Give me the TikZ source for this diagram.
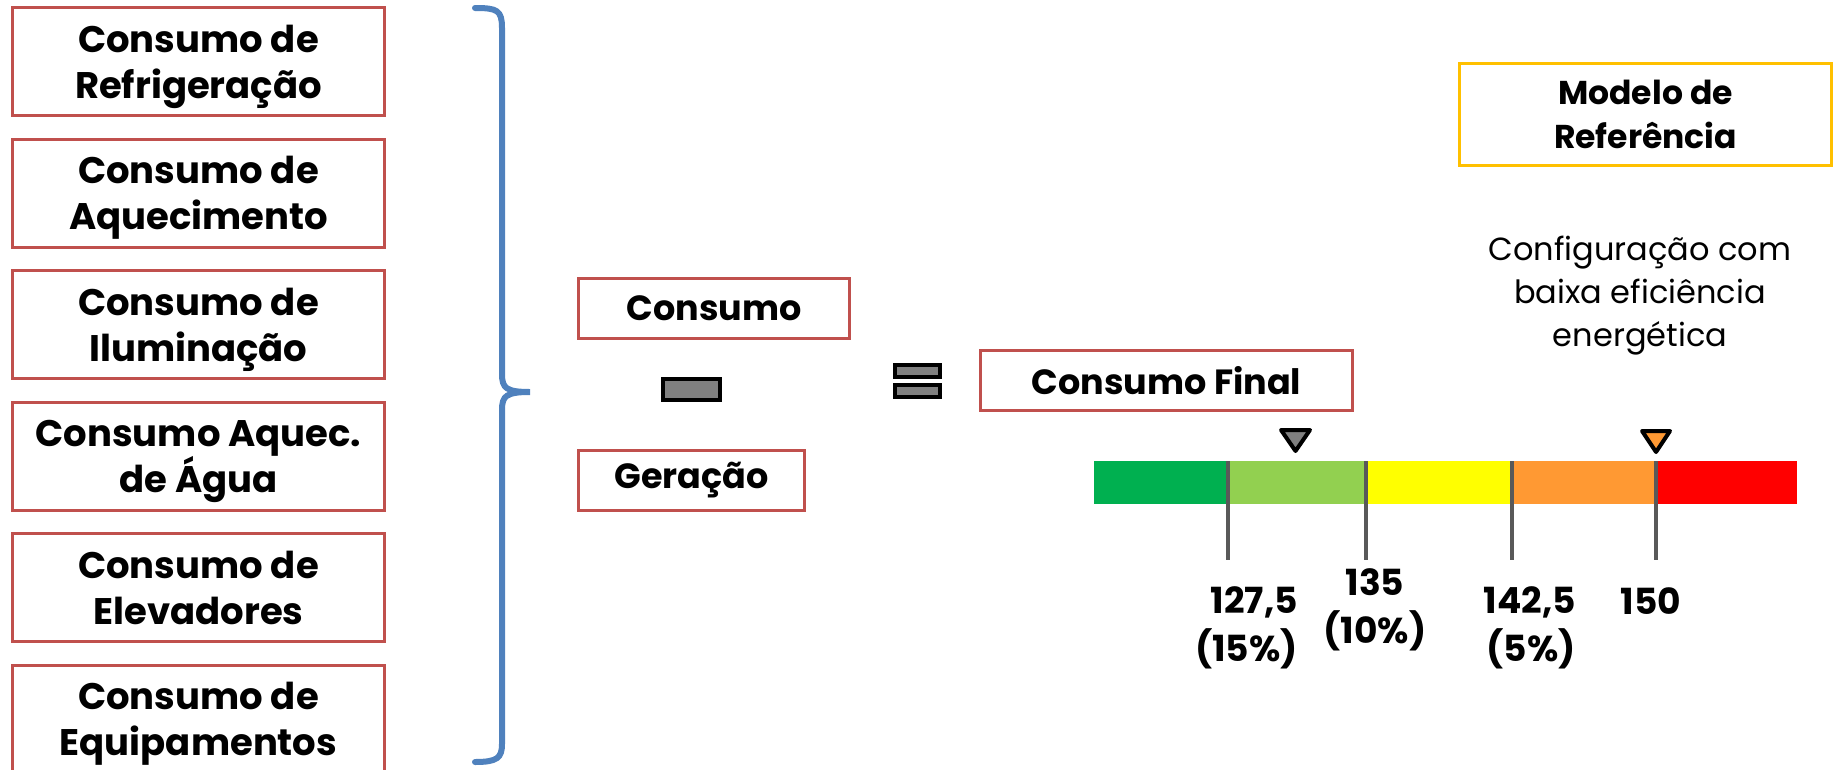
\documentclass[tikz,border=0pt]{standalone}
\usepackage{fontspec}
\setmainfont{Poppins}
\usetikzlibrary{positioning}
\usepackage{xcolor}
\definecolor{boxred}{HTML}{C0504D}
\definecolor{braceblue}{HTML}{4F81BD}
\definecolor{refyellow}{HTML}{FFC000}
\definecolor{lvA}{HTML}{00B050}
\definecolor{lvB}{HTML}{92D050}
\definecolor{lvC}{HTML}{FFFF00}
\definecolor{lvD}{HTML}{FF9933}
\definecolor{lvE}{HTML}{FF0000}
\definecolor{tickgray}{HTML}{595959}

\tikzset{
  cbox/.style={draw=boxred, line width=3pt, minimum width=372pt, minimum height=108pt, inner sep=0pt, text depth=0pt, align=center, font=\bfseries\fontsize{37}{46}\selectfont},
  sbox/.style={draw=boxred, line width=3pt, minimum height=60pt, inner sep=0pt, font=\bfseries\fontsize{35}{42}\selectfont},
  opbox/.style={draw=black, line width=4pt, fill=gray},
  numlbl/.style={inner sep=0pt, font=\bfseries\fontsize{36}{48}\selectfont},
}

\begin{document}
\begin{tikzpicture}[x=1pt,y=-1pt,node distance=131.5pt]
  \useasboundingbox (0,0) rectangle (1835,769);
  \clip (0,0) rectangle (1835,769);

  % consumption items
  \node (refrig) [cbox] at (198.5,61.5) {Consumo de\\Refrigeração};
  \node (aquec)  [below of=refrig, cbox] {Consumo de\\Aquecimento};
  \node (ilum)   [below of=aquec, cbox] {Consumo de\\Iluminação};
  \node (agua)   [below of=ilum, cbox] {Consumo Aquec.\\de Água};
  \node (elev)   [below of=agua, cbox] {Consumo de\\Elevadores};
  \node (equip)  [below of=elev, cbox] {Consumo de\\Equipamentos};

  % brace
  \draw[braceblue, line width=6pt, line cap=round] (475,8) .. controls (497,8) and (502,10) .. (502,28)
    -- (502,374) .. controls (502,388) and (506,392) .. (530,392)
    .. controls (506,392) and (502,396) .. (502,410)
    -- (502,744) .. controls (502,758) and (497,762) .. (475,762);

  % balance
  \node (cons)  [sbox, minimum width=271pt] at (714,308.5) {Consumo};
  \node (gera)  [sbox, minimum width=226pt] at (691.5,480.5) {Geração};
  \node (final) [sbox, minimum width=372pt] at (1166.5,380.5) {Consumo Final};
  \draw[opbox] (662.5,379) rectangle (720,400);
  \draw[opbox] (895,365) rectangle (940,377);
  \draw[opbox] (895,385) rectangle (940,397);

  % reference model
  \node (modelo) [draw=refyellow, line width=3pt, minimum width=372pt, minimum height=102pt, inner sep=0pt,
    align=center, font=\bfseries\fontsize{33}{44}\selectfont] at (1645.5,114.5) {Modelo de\\Referência};
  \node (config) [align=center, inner sep=0pt, font=\fontsize{32}{43}\selectfont] at (1640,296)
    {Configuração com\\baixa eficiência\\energética};

  % scale
  \foreach \xa/\xb/\c in {1094/1228/lvA, 1228/1366/lvB, 1366/1512/lvC, 1512/1656/lvD, 1656/1797/lvE}
    \fill[\c] (\xa,461) rectangle (\xb,504);
  \foreach \x in {1228,1366,1512,1656}
    \draw[tickgray, line width=4pt] (\x,461) -- (\x,560);
  \draw[line width=4pt, line join=round, fill=gray] (1281,430) -- (1310,430) -- (1295.5,451) -- cycle;
  \draw[line width=4pt, line join=round, fill=lvD] (1642,431) -- (1670,431) -- (1656,452) -- cycle;

  \node (lblA) [numlbl, align=right, anchor=east] at (1298,628) {127,5\\(15\%)};
  \node (lblB) [numlbl, align=center] at (1375,609.5) {135\\(10\%)};
  \node (lblC) [numlbl, align=right, anchor=east] at (1576,628) {142,5\\(5\%)};
  \node (lblD) [numlbl] at (1651,601.5) {150};
\end{tikzpicture}
\end{document}
